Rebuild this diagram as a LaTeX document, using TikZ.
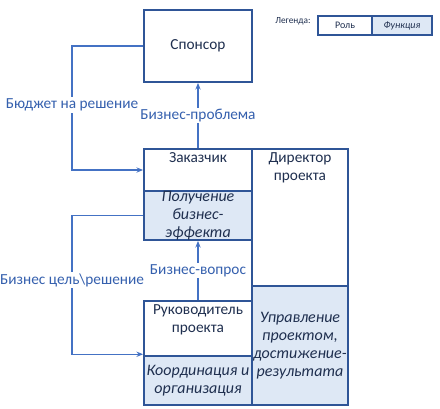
\documentclass[tikz,border=0pt]{standalone}
\usepackage{fontspec}
\setmainfont{Carlito}
\usetikzlibrary{arrows.meta,positioning,calc}

\definecolor{boxblue}{HTML}{2F5597}
\definecolor{funcfill}{HTML}{DEE8F5}
\definecolor{linkblue}{HTML}{4472C4}
\definecolor{textnavy}{HTML}{1F2F4F}
\definecolor{labelblue}{HTML}{3560AE}

\tikzset{
  rolebox/.style={draw=boxblue, line width=1.4pt, fill=white, inner sep=0pt},
  funcbox/.style={rolebox, fill=funcfill, text=textnavy, align=center, font=\fontsize{12}{13.5}\selectfont\itshape},
  roletext/.style={text=textnavy, align=center, inner sep=1pt},
  flow/.style={draw=linkblue, line width=0.9pt, -{Stealth[length=5pt,width=4pt]}},
  flowlabel/.style={fill=white, text=labelblue, inner sep=1pt}
}

\begin{document}
\begin{tikzpicture}[x=0.75pt, y=-0.75pt, font=\fontsize{11.5}{13.5}\selectfont]
        \useasboundingbox (0,0) rectangle (440,408);
        % Роли и функции
        \node[rolebox, minimum width=81pt, minimum height=54pt, text=textnavy] (sponsor) at (198,46) {Спонсор};
        \node[rolebox, minimum width=81pt, minimum height=31.5pt] (zak) at (198,170) {};
        \node[roletext, below=2pt of zak.north] (zaktext) {Заказчик};
        \node[funcbox, minimum width=81pt, minimum height=36.75pt] (pol) at (198,215.5) {Получение\\бизнес-\\эффекта};
        \node[rolebox, minimum width=72pt, minimum height=102.75pt] (dir) at (300,217.5) {};
        \node[roletext, below=2pt of dir.north] (dirtext) {Директор\\проекта};
        \node[funcbox, minimum width=72pt, minimum height=89.25pt] (upr) at (300,345.5) {Управление\\проектом,\\достижение-\\результата};
        \node[rolebox, minimum width=81pt, minimum height=41.25pt] (ruk) at (198,328.5) {};
        \node[roletext, below=2pt of ruk.north] (ruktext) {Руководитель\\проекта};
        \node[funcbox, minimum width=81pt, minimum height=36.75pt] (koord) at (198,380.5) {Координация и\\организация};
        % Легенда
        \node[text=textnavy, font=\fontsize{7}{8}\selectfont] (legtext) at (293,21) {Легенда:};
        \node[rolebox, line width=1.1pt, minimum width=40.5pt, minimum height=14.25pt, text=textnavy, font=\fontsize{7.5}{8}\selectfont] (legrole) at (345,25.5) {Роль};
        \node[funcbox, line width=1.1pt, minimum width=45pt, minimum height=14.25pt, font=\fontsize{7.5}{8}\selectfont\itshape] (legfunc) at (402,25.5) {Функция};
        % Связи
        \draw[flow] (zak.north) -- (sponsor.south) node[flowlabel, midway] (problem) {Бизнес-проблема};
        \draw[flow] (ruk.north) -- (pol.south) node[flowlabel, midway] (question) {Бизнес-вопрос};
        \coordinate (budgetbend) at (72,105);
        \draw[flow] (sponsor.west) -| (budgetbend) node[flowlabel] (budget) {Бюджет на решение} |- (zak.west);
        \coordinate (goalbend) at (72,280);
        \draw[flow] (pol.west) -| (goalbend) node[flowlabel] (goal) {Бизнес цель\textbackslash решение} |- ([yshift=2pt]ruk.south west);
      \end{tikzpicture}
\end{document}
